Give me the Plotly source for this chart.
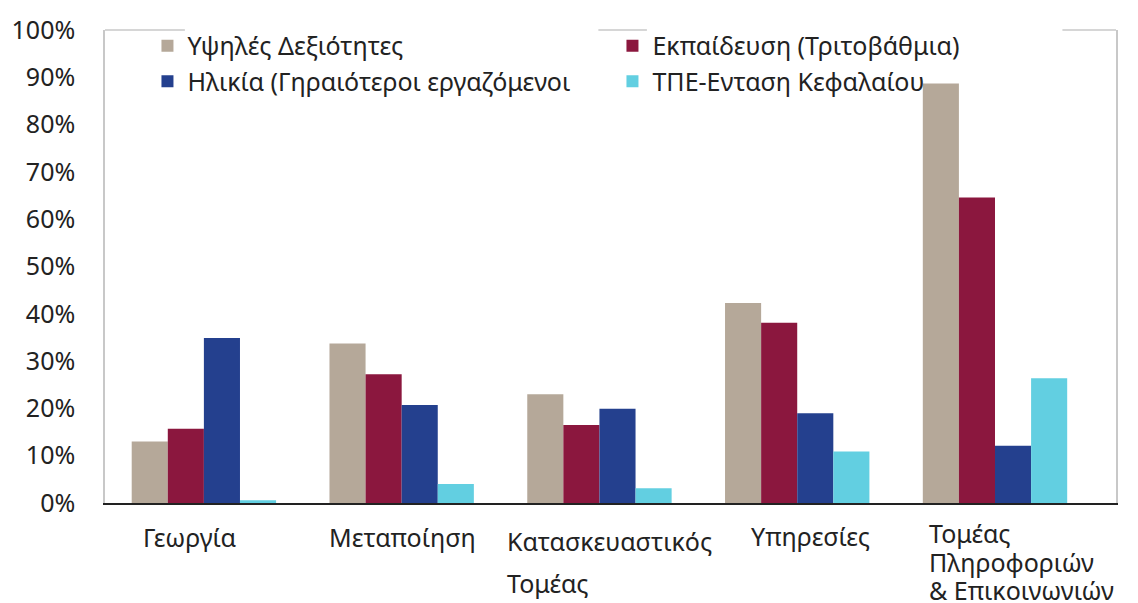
import plotly.graph_objects as go

categories = ["Γεωργία", "Μεταποίηση", "Κατασκευαστικός Τομέας", "Υπηρεσίες",
              "Τομέας Πληροφοριών & Επικοινωνιών"]
series_names = ["Υψηλές Δεξιότητες", "Εκπαίδευση (Τριτοβάθμια)",
                "Ηλικία (Γηραιότεροι εργαζόμενοι", "ΤΠΕ-Ενταση Κεφαλαίου"]
high_skills = [13.0, 33.7, 23.0, 42.3, 88.7]
education = [15.7, 27.2, 16.5, 38.1, 64.6]
age = [34.9, 20.7, 19.9, 19.0, 12.1]
ict = [0.6, 4.0, 3.1, 10.9, 26.4]
tick_vals = [0, 10, 20, 30, 40, 50, 60, 70, 80, 90, 100]
tick_text = [f"{v}%" for v in tick_vals]

colors = ["#B5A899", "#8B173E", "#24408E", "#62CFE1"]
values = [high_skills, education, age, ict]

FONT = "Noto Sans"
FS = 25
TXT = "#222222"

fig = go.Figure()
for name, vals, col in zip(series_names, values, colors):
    fig.add_trace(go.Bar(x=categories, y=vals, name=name,
                         marker=dict(color=col, line=dict(width=0))))

# category labels (custom placement as in reference)
label_specs = [
    (categories[0], ["Γεωργία"], "center", -14, [34]),
    (categories[1], ["Μεταποίηση"], "center", 1, [34]),
    (categories[2], ["Κατασκευαστικός", "Τομέας"], "left", -94, [38, 80]),
    (categories[3], ["Υπηρεσίες"], "center", 13, [33]),
    (categories[4], ["Τομέας", "Πληροφοριών", "& Επικοινωνιών"], "left", -68, [30, 59, 87]),
]
annotations = []
for cat, lines, anchor, xs, ys in label_specs:
    for line, yoff in zip(lines, ys):
        annotations.append(dict(x=cat, y=0, xref="x", yref="y", text=line,
                                showarrow=False, xanchor=anchor, yanchor="middle",
                                xshift=xs, yshift=-yoff,
                                font=dict(family=FONT, size=FS, color=TXT)))

shapes = []
for x0, x1 in [(0, 0.079), (0.488, 0.536), (0.947, 1.0)]:
    shapes.append(dict(type="line", xref="paper", yref="paper", x0=x0, x1=x1,
                       y0=1, y1=1, line=dict(color="#C8C8C8", width=1.5)))

fig.update_layout(
    width=1138, height=603,
    margin=dict(l=100, r=22, t=24, b=100),
    paper_bgcolor="white", plot_bgcolor="white",
    barmode="group", bargap=0.27, bargroupgap=0,
    font=dict(family=FONT, size=FS, color=TXT),
    showlegend=True,
    legend=dict(orientation="h", x=0.042, y=1.015, xanchor="left", yanchor="top",
                entrywidth=420, entrywidthmode="pixels",
                bgcolor="rgba(0,0,0,0)", font=dict(family=FONT, size=FS, color=TXT),
                itemwidth=30, traceorder="normal"),
    xaxis=dict(showticklabels=False, showline=True, linecolor="#222222", linewidth=2,
               ticks="", showgrid=False, zeroline=False),
    yaxis=dict(range=[0, 100], tickvals=tick_vals, ticktext=tick_text,
               showgrid=False, zeroline=False, showline=True, mirror=True,
               linecolor="#C8C8C8", linewidth=1.5, ticks="outside", ticklen=23,
               tickcolor="rgba(0,0,0,0)", tickfont=dict(family=FONT, size=FS, color=TXT)),
    annotations=annotations,
    shapes=shapes,
)

fig.write_html("out.html", config={"displayModeBar": False},
               post_script="document.body.style.margin='0';document.body.style.overflow='hidden';")
